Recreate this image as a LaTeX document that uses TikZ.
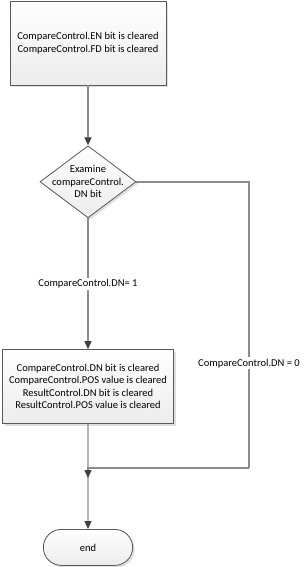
\documentclass[tikz,border=0pt]{standalone}
\usepackage{fontspec}
\setmainfont{Carlito}
\usetikzlibrary{shapes.geometric, shapes.misc, arrows.meta, positioning, shadows}

\definecolor{linegray}{HTML}{8C8C8C}
\definecolor{bordergray}{HTML}{595959}
\definecolor{tipgray}{HTML}{404040}

\begin{document}
\begin{tikzpicture}[font=\fontsize{10.5}{12.5}\selectfont, >=Latex, x=1pt, y=1pt]
  % Styles
  \tikzset{
    box/.style={draw=bordergray, thick, align=center, top color=white, bottom color=gray!15,
      drop shadow={opacity=0.25, shadow xshift=2pt, shadow yshift=-2pt}},
    procbox/.style={box, rectangle, minimum width=156pt, minimum height=84pt},
    resbox/.style={box, rectangle, minimum width=171pt, minimum height=74pt},
    decbox/.style={box, diamond, minimum width=96pt, minimum height=72pt, inner sep=0pt},
    termbox/.style={box, rounded rectangle, minimum width=96pt, minimum height=36pt},
    arrow/.style={draw=linegray, line width=1.4pt, -{Triangle[length=8pt,width=7pt,fill=tipgray,color=tipgray]}},
    line/.style={draw=linegray, line width=1.4pt},
    label/.style={fill=white, inner sep=1.5pt}
  }
  \useasboundingbox (0,0) rectangle (307,-567);

  % Nodes
  \node[procbox] (start) at (88,-43) {CompareControl.EN bit is cleared\\CompareControl.FD bit is cleared};
  \node[decbox, below=60pt of start] (exam) {};
  \node[align=center, inner sep=0pt] (examtext) at (exam.center) {Examine\\compareControl.\\DN bit};
  \node[resbox, below=131pt of exam] (clear) {CompareControl.DN bit is cleared\\CompareControl.POS value is cleared\\ResultControl.DN bit is cleared\\ResultControl.POS value is cleared};
  \node[termbox, below=105pt of clear] (end) {end};
  \coordinate (corner) at (249,-468);
  \coordinate (join) at (88,-468);
  \coordinate (joinend) at (88,-478);

  % Arrows
  \draw[arrow] (start) -- (exam);
  \draw[arrow] (exam) -- (clear) node[pos=0.5, label] {CompareControl.DN= 1};
  \draw[arrow] (clear) -- (end);
  \draw[line] (exam.east) -| (corner) node[pos=0.817, label] {CompareControl.DN = 0};
  \draw[arrow] (corner) -- (join) -- (joinend);

\end{tikzpicture}
\end{document}
